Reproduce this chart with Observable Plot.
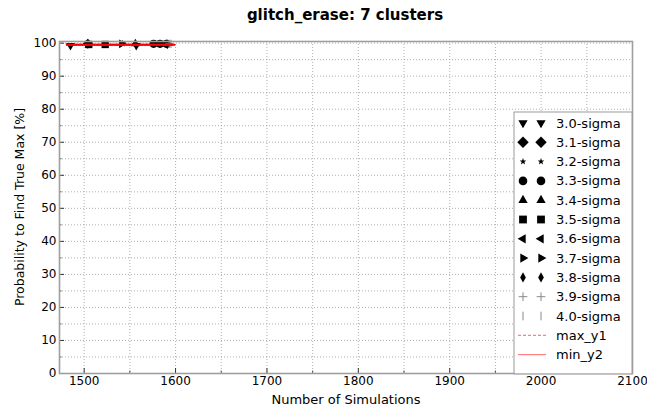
<!DOCTYPE html>
<html>
<head>
<meta charset="utf-8">
<script src="https://cdn.jsdelivr.net/npm/d3@7"></script>
<script src="https://cdn.jsdelivr.net/npm/@observablehq/plot@0.6"></script>
<style>
  body { margin: 0; background: #fff; font-family: "DejaVu Sans", sans-serif; }
  #title { height: 30px; width: 647px; position: relative; }
  #title span { position: absolute; left: 345px; top: 6px; transform: translateX(-50%);
    font-weight: bold; font-size: 15px; white-space: nowrap; color: #000; }
</style>
</head>
<body>
<div id="title"><span>glitch_erase: 7 clusters</span></div>
<div id="chart"></div>
<script>
// Series labels and marker shapes
const seriesLabels = ["3.0-sigma", "3.1-sigma", "3.2-sigma", "3.3-sigma", "3.4-sigma", "3.5-sigma",
                      "3.6-sigma", "3.7-sigma", "3.8-sigma", "3.9-sigma", "4.0-sigma"];
const seriesShapes = ["tridown", "diamond", "star", "circle", "triup", "square",
                      "trileft", "triright", "thindiamond", "plus", "vline"];

// Observed points per series (x: number of simulations, y: probability %)
const seriesX = [
  [1485, 1557], [1504], [1542], [1576, 1583, 1590], [1556], [1505, 1523],
  [1588], [1541], [1591], [1593], [1595]
];
const seriesY = [
  [99.3, 99.3], [99.8], [99.9], [99.8, 99.8, 99.8], [99.8], [99.6, 99.6],
  [99.8], [99.8], [99.6], [99.8], [99.8]
];

// Bounding lines
const maxY1X = [1481, 1599];
const maxY1Y = [99.5, 99.5];
const minY2X = [1481, 1599];
const minY2Y = [99.5, 99.5];

const xTicks = [1500, 1600, 1700, 1800, 1900, 2000, 2100];
const yTicks = [0, 10, 20, 30, 40, 50, 60, 70, 80, 90, 100];

// Custom marker shapes (d3 symbol types, sized by area)
function tri(ang) {
  return {draw(ctx, size) {
    const r = Math.sqrt(size) * 0.62;
    for (let i = 0; i < 3; i++) {
      const a = ang + i * 2 * Math.PI / 3;
      const px = r * Math.cos(a), py = r * Math.sin(a);
      if (i === 0) ctx.moveTo(px, py); else ctx.lineTo(px, py);
    }
    ctx.closePath();
  }};
}
const shapes = {
  tridown: tri(Math.PI / 2),
  triup: tri(-Math.PI / 2),
  trileft: tri(Math.PI),
  triright: tri(0),
  circle: {draw(ctx, size) { const r = Math.sqrt(size) * 0.5; ctx.moveTo(r, 0); ctx.arc(0, 0, r, 0, 2 * Math.PI); }},
  square: {draw(ctx, size) { const r = Math.sqrt(size) * 0.45; ctx.rect(-r, -r, 2 * r, 2 * r); }},
  diamond: {draw(ctx, size) { const r = Math.sqrt(size) * 0.62; ctx.moveTo(0, -r); ctx.lineTo(r, 0); ctx.lineTo(0, r); ctx.lineTo(-r, 0); ctx.closePath(); }},
  thindiamond: {draw(ctx, size) { const r = Math.sqrt(size) * 0.6; ctx.moveTo(0, -r); ctx.lineTo(r * 0.55, 0); ctx.lineTo(0, r); ctx.lineTo(-r * 0.55, 0); ctx.closePath(); }},
  star: {draw(ctx, size) {
    const R = Math.sqrt(size) * 0.45, r = R * 0.42;
    for (let i = 0; i < 10; i++) {
      const a = -Math.PI / 2 + i * Math.PI / 5, rr = i % 2 ? r : R;
      if (i === 0) ctx.moveTo(rr * Math.cos(a), rr * Math.sin(a)); else ctx.lineTo(rr * Math.cos(a), rr * Math.sin(a));
    }
    ctx.closePath();
  }},
  plus: {draw(ctx, size) { const r = Math.sqrt(size) * 0.5; ctx.moveTo(-r, 0); ctx.lineTo(r, 0); ctx.moveTo(0, -r); ctx.lineTo(0, r); }},
  vline: {draw(ctx, size) { const r = Math.sqrt(size) * 0.5; ctx.moveTo(0, -r); ctx.lineTo(0, r); }}
};
const strokeShapes = new Set(["plus", "vline"]);

const points = seriesLabels.flatMap((label, i) =>
  seriesX[i].map((x, j) => ({x, y: seriesY[i][j], shape: seriesShapes[i], label})));
const filled = points.filter(d => !strokeShapes.has(d.shape));
const stroked = points.filter(d => strokeShapes.has(d.shape));
const lineMax = maxY1X.map((x, i) => ({x, y: maxY1Y[i]}));
const lineMin = minY2X.map((x, i) => ({x, y: minY2Y[i]}));

const xGrid = d3.range(1500, 2101, 50);
const yGrid = d3.range(0, 101, 5);
const gridStyle = {stroke: "#9a9a9a", strokeOpacity: 1, strokeWidth: 0.8, strokeDasharray: "1,2"};

const plot = Plot.plot({
  width: 647,
  height: 378,
  marginLeft: 59,
  marginRight: 15,
  marginTop: 11,
  marginBottom: 35,
  style: {fontFamily: "DejaVu Sans, sans-serif", fontSize: "12px", color: "#000", background: "#fff", overflow: "visible"},
  x: {domain: [1473, 2100]},
  y: {domain: [0, 100.5]},
  symbol: {type: "identity"},
  marks: [
    Plot.gridX(xGrid, gridStyle),
    Plot.gridY(yGrid, gridStyle),
    Plot.axisX(xGrid.filter(v => v % 100 !== 0), {tickSize: -2.5, text: null, label: null, stroke: "#555"}),
    Plot.axisY(yGrid.filter(v => v % 10 !== 0), {tickSize: -2.5, text: null, label: null, stroke: "#555"}),
    Plot.axisX(xTicks, {tickSize: -5, tickPadding: 8, stroke: "#333", fontSize: 12, tickFormat: d => String(d),
      label: null}),
    Plot.axisX({ticks: [], label: "Number of Simulations", labelAnchor: "center", labelArrow: "none",
      labelOffset: 30, fontSize: 13}),
    Plot.axisY(yTicks, {tickSize: -5, tickPadding: 8, stroke: "#333", fontSize: 12, tickFormat: d => String(d),
      label: null}),
    Plot.dot(filled, {x: "x", y: "y", symbol: d => shapes[d.shape], r: 4.6, fill: "#000", stroke: "none"}),
    Plot.dot(stroked, {x: "x", y: "y", symbol: d => shapes[d.shape], r: 4.6, fill: "none", stroke: "#777", strokeWidth: 1}),
    Plot.line(lineMax, {x: "x", y: "y", stroke: "#ff0000", strokeWidth: 2, strokeDasharray: "4,2"}),
    Plot.line(lineMin, {x: "x", y: "y", stroke: "#ff0000", strokeWidth: 2}),
    Plot.frame({stroke: "#9f9f9f", strokeWidth: 1.6})
  ]
});
document.getElementById("chart").appendChild(plot);

const svg = d3.select(plot);

// Y axis title, centred on the plot frame
svg.append("text")
  .attr("transform", `translate(20,${(11 + 343) / 2}) rotate(-90)`)
  .attr("text-anchor", "middle").attr("dy", "0.35em")
  .attr("font-family", "DejaVu Sans, sans-serif").attr("font-size", 12.5).attr("fill", "#000")
  .text("Probability to Find True Max [%]");

// Legend box inside the plot area, lower right
const legendEntries = seriesLabels.map((label, i) => ({label, shape: seriesShapes[i], kind: "marker"}))
  .concat([{label: "max_y1", kind: "dash"}, {label: "min_y2", kind: "solid"}]);
const lx = 514, ly = 82, lw = 118, rowH = 19.3;
const lg = svg.append("g").attr("font-family", "DejaVu Sans, sans-serif").attr("font-size", 13)
  .attr("text-anchor", "start");
lg.append("rect").attr("x", lx).attr("y", ly).attr("width", lw).attr("height", rowH * legendEntries.length + 11)
  .attr("fill", "#fff").attr("stroke", "#999").attr("stroke-width", 1);
legendEntries.forEach((e, i) => {
  const cy = ly + 11 + i * rowH;
  if (e.kind === "marker") {
    const stroke = strokeShapes.has(e.shape);
    const size = e.shape === "star" ? 60 : e.shape === "diamond" ? 85 : 75;
    [523, 541].forEach(cx => {
      lg.append("path")
        .attr("d", d3.symbol(shapes[e.shape], size)())
        .attr("transform", `translate(${cx},${cy})`)
        .attr("fill", stroke ? "none" : "#000")
        .attr("stroke", stroke ? "#888" : "none");
    });
  } else {
    lg.append("line").attr("x1", 518).attr("x2", 546).attr("y1", cy).attr("y2", cy)
      .attr("stroke", "#ff8080").attr("stroke-width", 1.2)
      .attr("stroke-dasharray", e.kind === "dash" ? "3,2" : null);
  }
  lg.append("text").attr("x", 556).attr("y", cy).attr("dy", "0.35em").attr("fill", "#000").text(e.label);
});
</script>
</body>
</html>
